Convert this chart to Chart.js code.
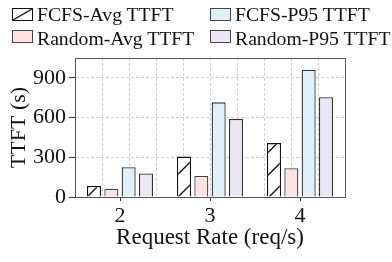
<!DOCTYPE html>
<html>
<head>
<meta charset="utf-8">
<script src="https://cdn.jsdelivr.net/npm/chart.js@4"></script>
<style>
  html, body { margin: 0; padding: 0; background: #fff; }
  #wrap { position: relative; width: 392px; height: 262px; }
  #c { position: absolute; left: 0; top: 0; }
  .lg { position: absolute; font-family: 'Liberation Serif', 'Times New Roman', serif; font-size: 19.7px; line-height: 20px; color: #111; white-space: nowrap; }
  .bx { position: absolute; width: 19px; height: 11px; border: 1.2px solid #333; }
</style>
</head>
<body>
<div id="wrap">
  <canvas id="c" width="392" height="262"></canvas>
  <div id="legend"></div>
</div>
<script>
const categories = ['2', '3', '4'];
const seriesNames = ['FCFS-Avg TTFT', 'Random-Avg TTFT', 'FCFS-P95 TTFT', 'Random-P95 TTFT'];
const fcfsAvg = [83, 305, 407];
const randomAvg = [63, 159, 217];
const fcfsP95 = [225, 715, 962];
const randomP95 = [177, 589, 753];
const yTickLabels = [0, 300, 600, 900];

const FONT = "'Liberation Serif', 'Times New Roman', serif";

// hatch pattern "/" : tile 91 px, 4 lines per tile (spacing 22.75)
function hatch() {
  const s = 91, step = s / 4, off = 11;
  const cv = document.createElement('canvas');
  cv.width = s; cv.height = s;
  const g = cv.getContext('2d');
  g.fillStyle = '#fff'; g.fillRect(0, 0, s, s);
  g.strokeStyle = '#111'; g.lineWidth = 1.3;
  g.beginPath();
  for (let k = -1; k <= 9; k++) {
    const c = off + k * step; // line x + y = c
    g.moveTo(c + 5, -5); g.lineTo(c - s - 5, s + 5);
  }
  g.stroke();
  return g.createPattern(cv, 'repeat');
}

const fills = [hatch(), '#ffe3e3', '#ddf0fc', '#ebe6f4'];
const legendFills = ['#fff', '#ffe3e3', '#ddf0fc', '#ebe6f4'];
const borders = ['#111', '#444', '#333', '#333'];
const values = [fcfsAvg, randomAvg, fcfsP95, randomP95];

// HTML legend (2 columns): row 1 FCFS, row 2 Random
const lg = document.getElementById('legend');
const pos = [[12, 8, 37, 3.5], [12, 30, 37, 27.5], [210, 8, 235, 3.5], [210, 30, 235, 27.5]];
seriesNames.forEach((n, i) => {
  const b = document.createElement('div');
  b.className = 'bx';
  b.style.left = pos[i][0] + 'px'; b.style.top = pos[i][1] + 'px';
  b.style.background = legendFills[i];
  b.style.borderColor = i === 0 ? '#111' : '#444';
  if (i === 0) {
    b.innerHTML = '<svg width="19" height="11" style="position:absolute;left:0;top:0"><line x1="0" y1="11" x2="19" y2="0" stroke="#111" stroke-width="1.2"/></svg>';
  }
  lg.appendChild(b);
  const t = document.createElement('div');
  t.className = 'lg';
  t.style.left = pos[i][2] + 'px'; t.style.top = pos[i][3] + 'px';
  t.textContent = n;
  lg.appendChild(t);
});

const frame = {
  id: 'frame',
  afterDraw(chart) {
    const a = chart.chartArea, ctx = chart.ctx;
    ctx.save();
    ctx.strokeStyle = '#555'; ctx.lineWidth = 1;
    ctx.strokeRect(Math.round(a.left) + 0.5, Math.round(a.top) + 0.5, Math.round(a.right - a.left), Math.round(a.bottom - a.top));
    ctx.restore();
  }
};

new Chart(document.getElementById('c'), {
  type: 'bar',
  data: {
    labels: categories,
    datasets: seriesNames.map((n, i) => ({
      label: n,
      data: values[i],
      backgroundColor: fills[i],
      borderColor: borders[i],
      borderWidth: 1.3,
      categoryPercentage: 0.77,
      barPercentage: 0.81
    }))
  },
  options: {
    responsive: false,
    animation: false,
    devicePixelRatio: 1,
    layout: { padding: { top: 58, right: 47, left: 0, bottom: 10 } },
    plugins: { legend: { display: false }, tooltip: { enabled: false } },
    scales: {
      x: {
        type: 'category',
        position: 'bottom',
        offset: true,
        afterFit(scale) { scale.height = 55; },
        grid: { display: true, drawOnChartArea: false, drawTicks: true, tickLength: 4, offset: false, tickColor: '#333' },
        border: { display: true, color: '#555', width: 1 },
        ticks: { color: '#111', font: { family: FONT, size: 22 }, padding: 2, maxRotation: 0 },
        title: { display: true, text: 'Request Rate (req/s)', color: '#111', font: { family: FONT, size: 23 }, padding: { top: 0, bottom: 0 } }
      },
      xg: {
        type: 'linear',
        axis: 'x',
        position: 'top',
        min: -0.5,
        max: 8.5,
        ticks: { display: false, stepSize: 1, includeBounds: false },
        grid: { display: true, drawTicks: false, color: '#cfcfcf', lineWidth: 1 },
        border: { display: false, dash: [3, 2] }
      },
      y: {
        min: 0,
        max: 1050,
        afterFit(scale) { scale.width = 75; },
        ticks: {
          stepSize: 150,
          color: '#111',
          font: { family: FONT, size: 22 },
          padding: 3,
          callback: (v) => (yTickLabels.includes(v) ? String(v) : '')
        },
        grid: {
          color: '#cfcfcf',
          lineWidth: 1,
          tickLength: 6,
          tickColor: (ctx) => (ctx.tick && yTickLabels.includes(ctx.tick.value) ? '#333' : 'rgba(0,0,0,0)')
        },
        border: { display: true, color: '#555', width: 1, dash: [3, 2] },
        title: { display: true, text: 'TTFT (s)', color: '#111', font: { family: FONT, size: 22 }, padding: { top: 6, bottom: 0 } }
      }
    }
  },
  plugins: [frame]
});
</script>
</body>
</html>
